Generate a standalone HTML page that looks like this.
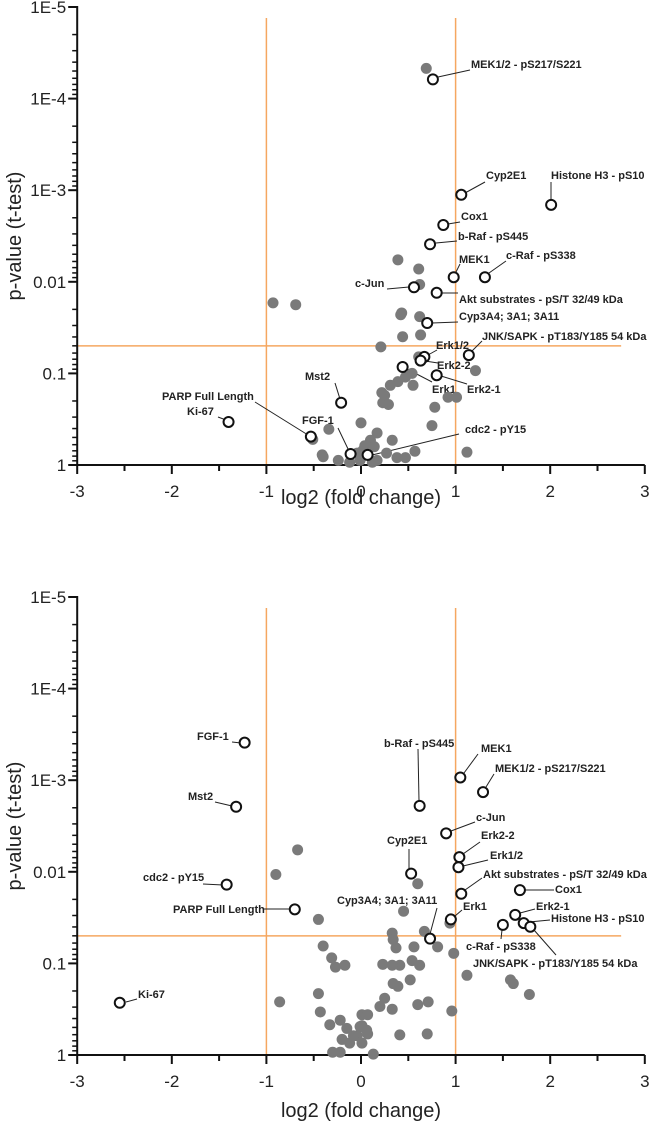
<!DOCTYPE html>
<html><head><meta charset="utf-8"><style>
html,body{margin:0;padding:0;background:#fff;}
svg{display:block;font-family:"Liberation Sans",Arial,sans-serif;}
.tick{font-size:17px;fill:#222;}
.title{font-size:20px;fill:#222;}
.lab{font-size:11px;font-weight:bold;fill:#222;}
.lead{stroke:#222;stroke-width:1;}
</style></head><body>
<svg id="chart" width="650" height="1126" viewBox="0 0 650 1126"></svg>
<script>
// ---- data: log2 fold change and -log10(p) ----
const topGrayFC=[.69,.39,.61,.62,-.93,-.69,.43,.42,.62,.44,.63,.21,.61,1.21,.54,.47,.39,.31,.55,.22,.25,.23,.29,.92,1.01,.78,.75,0,-.34,.33,.57,1.12,.17,.10,.14,.02,-.51,-.41,-.24,-.12,-.01,.17,.27,.38,.47,-.04,.07,-.40,.12,.04];
const topGrayNLP=[4.33,2.24,2.14,1.97,1.77,1.75,1.66,1.64,1.62,1.40,1.42,1.29,1.18,1.03,1.00,.96,.91,.87,.87,.79,.76,.68,.66,.74,.74,.63,.43,.46,.39,.27,.15,.14,.35,.27,.20,.16,.28,.11,.05,.03,.05,.05,.13,.08,.08,.13,.11,.09,.03,.21];
const topHitNames=["MEK1/2 - pS217/S221","Cyp2E1","Histone H3 - pS10","Cox1","b-Raf - pS445","MEK1","c-Raf - pS338","c-Jun","Akt substrates - pS/T 32/49 kDa","Cyp3A4; 3A1; 3A11","JNK/SAPK - pT183/Y185 54 kDa","Erk1/2","Erk2-2","Erk1","Erk2-1","Mst2","FGF-1","cdc2 - pY15","Ki-67","PARP Full Length"];
const topHitFC=[.76,1.06,2.01,.87,.73,.98,1.31,.56,.80,.70,1.14,.67,.63,.44,.80,-.21,-.11,.07,-1.40,-.53];
const topHitNLP=[4.21,2.95,2.84,2.62,2.41,2.05,2.05,1.94,1.88,1.55,1.20,1.18,1.14,1.07,.98,.68,.12,.11,.47,.31];

const botGrayFC=[-.67,-.90,.60,.45,-.45,.67,.94,.33,.34,.37,-.40,.56,.81,.98,1.12,.41,-.31,-.27,-.17,.23,.33,.54,.62,.52,.34,.39,-.45,-.86,-.43,.25,.20,.33,.60,.71,.96,-.33,-.22,.01,.07,-.01,.06,-.15,.41,.70,-.04,-.20,1.58,1.61,1.78,-.30,-.22,-.12,.01,.13,-.08,.01,.07];
const botGrayNLP=[2.24,1.97,1.87,1.57,1.48,1.35,1.44,1.33,1.26,1.17,1.19,1.18,1.18,1.11,.87,.98,1.06,.96,.98,.99,.98,1.03,.98,.82,.78,.75,.67,.58,.47,.62,.53,.50,.55,.58,.48,.33,.38,.44,.44,.31,.27,.29,.22,.23,.21,.17,.82,.78,.66,.03,.03,.13,.13,.01,.21,.32,.23];
const botHitNames=["b-Raf - pS445","MEK1","MEK1/2 - pS217/S221","c-Jun","Erk2-2","Erk1/2","Cyp2E1","Akt substrates - pS/T 32/49 kDa","Cox1","Erk2-1","Erk1","c-Raf - pS338","Histone H3 - pS10","JNK/SAPK - pT183/Y185 54 kDa","Cyp3A4; 3A1; 3A11","FGF-1","Mst2","cdc2 - pY15","PARP Full Length","Ki-67"];
const botHitFC=[.62,1.05,1.29,.90,1.04,1.03,.53,1.06,1.68,1.63,.95,1.50,1.72,1.79,.73,-1.23,-1.32,-1.42,-.70,-2.55];
const botHitNLP=[2.72,3.03,2.87,2.42,2.16,2.05,1.98,1.76,1.80,1.53,1.48,1.42,1.44,1.40,1.27,3.41,2.71,1.86,1.59,.57];

const xTicks=[-3,-2,-1,0,1,2,3];
const yTickLabels=["1E-5","1E-4","1E-3","0.01","0.1","1"];

const topLabels=[
["MEK1/2 - pS217/S221",471,68,438,77,470,70],["Cyp2E1",486,179,465,193,485,182],["Histone H3 - pS10",551,179,551,199,551,182],
["Cox1",461,220,448,224,460,222],["b-Raf - pS445",458,240,436,243,457,241],["MEK1",459,263,456,272,460,264],
["c-Raf - pS338",506,259,489,273,506,261],["c-Jun",355,287,387,289,409,287],["Akt substrates - pS/T 32/49 kDa",459,303,442,293,458,293],
["Cyp3A4; 3A1; 3A11",459,320,432,323,458,322],["JNK/SAPK - pT183/Y185 54 kDa",482,340,472,351,482,341],["Erk1/2",436,349,428,355,437,350],
["Erk2-2",437,369,425,361,438,363],["Erk1",432,393,407,369,432,382],["Erk2-1",467,393,441,376,467,384],
["Mst2",305,380,335,383,340,399],["FGF-1",302,424,338,428,349,451],["cdc2 - pY15",465,433,372,455,459,434],
["PARP Full Length",162,400,255,402,308,435],["Ki-67",187,415,218,417,226,420]];
const botLabels=[
["b-Raf - pS445",384,747,419,801,418,749],["MEK1",481,752,464,773,478,754],["MEK1/2 - pS217/S221",495,772,486,787,494,774],
["c-Jun",476,821,451,831,475,822],["Erk2-2",481,839,463,854,480,842],["Erk1/2",490,859,463,866,488,860],
["Cyp2E1",387,844,409,869,409,849],["Akt substrates - pS/T 32/49 kDa",483,878,465,890,482,878],["Cox1",555,893,525,890,554,890],
["Erk2-1",536,910,520,913,535,909],["Histone H3 - pS10",551,922,529,922,550,920],["Erk1",463,910,455,916,462,910],
["c-Raf - pS338",466,950,502,930,501,939],["JNK/SAPK - pT183/Y185 54 kDa",473,967,534,930,556,955],["Cyp3A4; 3A1; 3A11",337,904,430,934,437,908],
["FGF-1",197,740,232,742,241,743],["Mst2",188,800,215,802,232,806],["cdc2 - pY15",143,881,203,884,223,885],
["PARP Full Length",173,913,264,909,290,909],["Ki-67",138,998,126,1002,137,999]];

const NS="http://www.w3.org/2000/svg";
const svg=document.getElementById("chart");
function mk(tag,attrs,parent){const e=document.createElementNS(NS,tag);for(const k in attrs)e.setAttribute(k,attrs[k]);(parent||svg).appendChild(e);return e;}

function drawChart(oy,grayFC,grayNLP,hitFC,hitNLP,hitNames,labels,id,xTitleY){
  const x0=361,xs=94.6,yBase=465+oy,ys=91.6;
  const X=v=>x0+v*xs, Y=n=>yBase-n*ys;
  const g=mk("g",{});
  
  
  let l=mk("line",{x1:X(-1),x2:X(-1),y1:18+oy,y2:yBase,stroke:"#f5a760","stroke-width":1.5},g);
  
  
  l=mk("line",{x1:X(1),x2:X(1),y1:18+oy,y2:yBase,stroke:"#f5a760","stroke-width":1.5},g);
  
  
  l=mk("line",{x1:X(-3),x2:X(2.75),y1:Y(-Math.log10(0.05)),y2:Y(-Math.log10(0.05)),stroke:"#f5a760","stroke-width":1.5},g);
  
  
  const ax=mk("g",{stroke:"#111","stroke-width":2},g);
  
  
  mk("line",{x1:X(-3),x2:X(-3),y1:Y(5)-1,y2:yBase+1},ax);
  mk("line",{x1:X(-3)-1,x2:X(3),y1:yBase,y2:yBase},ax);
  for(let d=0;d<5;d++){for(let m=2;m<=9;m++){const n=d+1-Math.log10(m);mk("line",{x1:X(-3)-5,x2:X(-3),y1:Y(n),y2:Y(n),"stroke-width":1.5},ax);}}
  yTickLabels.forEach((t,i)=>{const n=5-i;mk("line",{x1:X(-3)-9,x2:X(-3),y1:Y(n),y2:Y(n)},ax);
    const tx=mk("text",{x:X(-3)-11,y:Y(n)+6,"text-anchor":"end",class:"tick",stroke:"none"},g);tx.textContent=t;
    
    });
  xTicks.forEach(v=>{mk("line",{x1:X(v),x2:X(v),y1:yBase,y2:yBase+9},ax);
    if(v<3)mk("line",{x1:X(v+.5),x2:X(v+.5),y1:yBase,y2:yBase+6},ax);
    const tx=mk("text",{x:X(v),y:yBase+32,"text-anchor":"middle",class:"tick"},g);tx.textContent=v;
    
    });
  let t=mk("text",{x:X(0),y:xTitleY,"text-anchor":"middle",class:"title"},g);t.textContent="log2 (fold change)";
  
  
  t=mk("text",{x:0,y:0,"text-anchor":"middle",class:"title",transform:`translate(21,${Y(2.5)}) rotate(-90)`},g);t.textContent="p-value (t-test)";
  
  
  labels.forEach(a=>{const ln=mk("line",{x1:a[3],y1:a[4],x2:a[5],y2:a[6],class:"lead"},g);
    
    
    const tx=mk("text",{x:a[1],y:a[2],class:"lab"},g);tx.textContent=a[0];
    
    });
  grayFC.forEach((v,i)=>{const c=mk("circle",{cx:X(v),cy:Y(grayNLP[i]),r:5.5,fill:"#7a7a7a"},g);
    
    });
  hitFC.forEach((v,i)=>{const c=mk("circle",{cx:X(v),cy:Y(hitNLP[i]),r:5,fill:"#fff",stroke:"#111","stroke-width":2},g);
    
    
    const ti=mk("title",{},c);ti.textContent=hitNames[i];});
}
drawChart(0,topGrayFC,topGrayNLP,topHitFC,topHitNLP,topHitNames,topLabels,"top",504);
drawChart(590,botGrayFC,botGrayNLP,botHitFC,botHitNLP,botHitNames,botLabels,"bottom",1117);
</script>
</body></html>
